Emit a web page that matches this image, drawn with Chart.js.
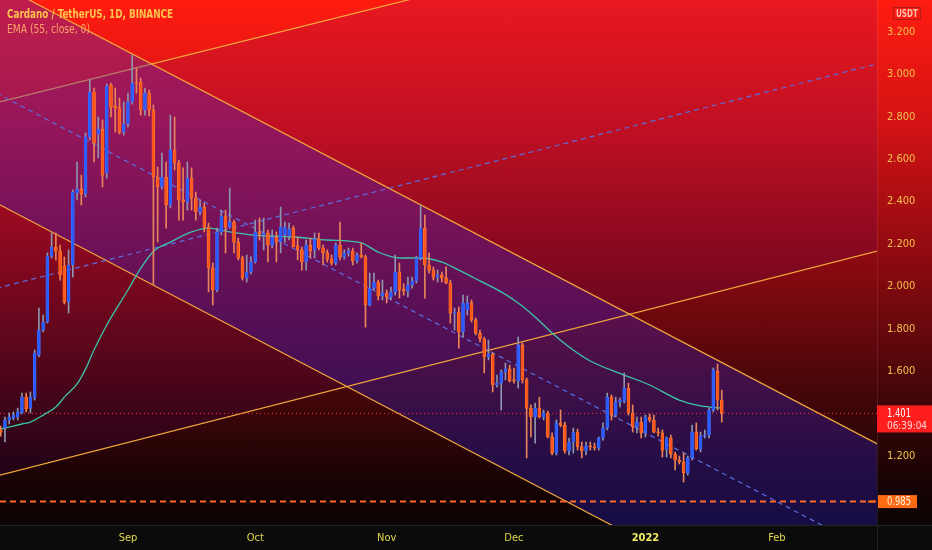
<!DOCTYPE html>
<html><head><meta charset="utf-8">
<script src="https://cdn.jsdelivr.net/npm/chart.js@4.4.1/dist/chart.umd.min.js"></script>
<style>
html,body{margin:0;padding:0;background:#0b0b0b;}
#wrap{position:relative;width:932px;height:550px;
background:linear-gradient(to bottom,#ff1c10 0px,#d01214 130px,#8c0a10 260px,#460609 390px,#190304 480px,#0c0303 524px,#0b0b0b 525px,#0b0b0b 550px);}
canvas{display:block;}
</style></head><body><div id="wrap"><canvas id="c" width="932" height="550"></canvas></div>
<script>
// day offsets are counted from 1 Sep 2021; first candle = 2 Aug 2021
const FIRST_DAY = -30;
const open = [
1.323,1.332,1.370,1.379,1.384,1.403,1.478,1.426,1.474,1.676,
1.794,1.832,2.143,2.186,2.167,2.096,1.926,2.101,2.441,2.459,
2.436,2.705,2.917,2.719,2.742,2.535,2.950,2.851,2.842,2.728,
2.766,2.870,2.959,2.964,2.832,2.912,2.832,2.516,2.469,2.516,
2.384,2.643,2.582,2.408,2.398,2.511,2.417,2.351,2.374,2.280,
2.087,1.983,2.257,2.332,2.280,2.304,2.209,2.134,2.040,2.068,
2.115,2.257,2.243,2.252,2.195,2.233,2.209,2.243,2.238,2.275,
2.191,2.172,2.115,2.195,2.172,2.224,2.181,2.158,2.129,2.110,
2.195,2.139,2.158,2.167,2.120,2.148,2.139,1.912,1.992,2.021,
1.955,1.969,1.950,1.974,2.068,1.988,1.978,2.007,2.026,2.134,
2.275,2.101,2.077,2.044,2.054,2.040,2.016,1.874,1.879,1.785,
1.889,1.922,1.842,1.780,1.752,1.667,1.681,1.535,1.544,1.597,
1.611,1.559,1.554,1.724,1.559,1.426,1.384,1.426,1.384,1.403,
1.290,1.214,1.356,1.346,1.224,1.266,1.313,1.243,1.224,1.247,
1.243,1.238,1.285,1.332,1.478,1.393,1.455,1.459,1.521,1.403,
1.337,1.360,1.309,1.384,1.370,1.313,1.309,1.233,1.285,1.209,
1.181,1.172,1.120,1.191,1.313,1.233,1.294,1.299,1.417,1.601,
1.464];
const high = [
1.341,1.384,1.403,1.408,1.426,1.497,1.497,1.502,1.700,1.898,
1.865,2.158,2.252,2.252,2.195,2.139,2.172,2.455,2.587,2.525,
2.724,2.974,2.936,2.799,2.785,2.955,2.959,2.936,2.889,2.870,
2.912,3.092,3.030,2.983,2.936,2.926,2.856,2.563,2.629,2.587,
2.808,2.799,2.596,2.559,2.587,2.559,2.445,2.408,2.393,2.299,
2.111,2.275,2.360,2.360,2.464,2.313,2.228,2.143,2.148,2.139,
2.313,2.323,2.323,2.266,2.266,2.257,2.374,2.304,2.299,2.285,
2.233,2.186,2.219,2.228,2.252,2.252,2.195,2.172,2.148,2.205,
2.304,2.172,2.181,2.181,2.158,2.205,2.148,2.063,2.063,2.030,
2.030,1.983,1.997,2.148,2.110,2.012,2.044,2.044,2.143,2.384,
2.337,2.158,2.092,2.077,2.068,2.092,2.030,1.898,1.903,1.959,
1.955,1.936,1.851,1.794,1.761,1.747,1.686,1.582,1.606,1.639,
1.629,1.615,1.761,1.733,1.568,1.441,1.450,1.478,1.417,1.412,
1.309,1.370,1.417,1.360,1.285,1.332,1.327,1.266,1.266,1.266,
1.261,1.290,1.356,1.497,1.488,1.478,1.474,1.592,1.544,1.441,
1.384,1.384,1.393,1.398,1.393,1.332,1.323,1.290,1.299,1.219,
1.200,1.214,1.200,1.346,1.356,1.313,1.323,1.426,1.615,1.634,
1.511];
const low = [
1.294,1.266,1.351,1.370,1.370,1.398,1.408,1.403,1.464,1.667,
1.785,1.827,2.134,2.125,2.030,1.917,1.874,2.044,2.408,2.384,
2.422,2.691,2.587,2.606,2.469,2.511,2.799,2.728,2.719,2.714,
2.752,2.860,2.912,2.808,2.808,2.804,2.007,2.209,2.459,2.275,
2.370,2.549,2.313,2.313,2.360,2.360,2.313,2.337,2.257,1.974,
1.912,1.974,2.243,2.158,2.275,2.158,2.125,2.030,2.021,2.059,
2.110,2.219,2.172,2.115,2.181,2.115,2.158,2.209,2.219,2.186,
2.125,2.077,2.077,2.134,2.134,2.172,2.101,2.115,2.101,2.101,
2.125,2.129,2.143,2.101,2.110,2.134,1.808,1.908,1.983,1.936,
1.936,1.922,1.936,1.959,1.945,1.959,1.950,1.992,2.016,2.125,
1.945,2.063,2.030,2.021,2.021,2.012,1.827,1.794,1.709,1.761,
1.865,1.832,1.771,1.738,1.592,1.653,1.502,1.525,1.417,1.559,
1.549,1.544,1.521,1.544,1.191,1.290,1.261,1.379,1.370,1.285,
1.205,1.205,1.337,1.214,1.205,1.214,1.228,1.191,1.205,1.228,
1.228,1.228,1.275,1.323,1.370,1.384,1.431,1.450,1.393,1.313,
1.309,1.285,1.290,1.360,1.309,1.294,1.195,1.195,1.191,1.134,
1.162,1.077,1.110,1.181,1.228,1.219,1.285,1.285,1.408,1.417,
1.360];
const close = [
1.313,1.370,1.384,1.393,1.408,1.478,1.422,1.478,1.686,1.794,
1.832,2.143,2.186,2.167,2.054,1.926,2.101,2.445,2.459,2.436,
2.705,2.917,2.676,2.742,2.525,2.945,2.846,2.842,2.728,2.766,
2.870,2.959,2.955,2.832,2.912,2.832,2.516,2.469,2.516,2.384,
2.643,2.582,2.408,2.398,2.511,2.417,2.351,2.374,2.280,2.087,
1.983,2.257,2.332,2.280,2.304,2.209,2.134,2.040,2.068,2.115,
2.257,2.247,2.252,2.195,2.233,2.209,2.280,2.280,2.271,2.186,
2.172,2.115,2.195,2.167,2.224,2.181,2.158,2.129,2.110,2.195,
2.139,2.158,2.167,2.120,2.148,2.139,1.912,1.992,2.021,1.955,
1.969,1.950,1.974,2.068,1.983,1.978,2.007,2.026,2.134,2.275,
2.101,2.077,2.044,2.054,2.040,2.016,1.874,1.879,1.785,1.922,
1.922,1.842,1.780,1.752,1.667,1.681,1.535,1.544,1.597,1.611,
1.554,1.554,1.724,1.559,1.426,1.384,1.426,1.384,1.403,1.290,
1.214,1.356,1.346,1.224,1.266,1.313,1.243,1.224,1.247,1.243,
1.238,1.285,1.332,1.478,1.393,1.455,1.464,1.521,1.403,1.337,
1.360,1.309,1.384,1.370,1.313,1.309,1.228,1.285,1.209,1.181,
1.172,1.120,1.191,1.313,1.233,1.294,1.299,1.417,1.606,1.464,
1.401];

// EMA(55)
const emaDays   = [-30,-25,-23,-20,-17,-15,-12,-10,-8,-5,-4,0,3,6,10,15,19,24,29,33,39,47,55,59,64,69,74,78,83,88,92,96,100,104,109,117,123,130,135,140];
const emaValues = [1.327,1.351,1.360,1.393,1.431,1.478,1.540,1.610,1.700,1.818,1.853,1.983,2.085,2.165,2.209,2.257,2.275,2.257,2.243,2.238,2.233,2.219,2.205,2.162,2.134,2.134,2.115,2.077,2.026,1.974,1.922,1.856,1.780,1.714,1.648,1.582,1.535,1.464,1.436,1.426];

// drawn trend lines: [day, price] endpoints
const descUpper = [[-31,3.432],[178,1.243]];
const descLower = [[-31,2.393],[178,0.204]];
const descMid   = [[-31,2.912],[178,0.723]];
const ascUpper  = [[-31,2.866],[178,3.911]];
const ascLower  = [[-31,1.106],[178,2.174]];
const ascMid    = [[-31,1.991],[178,3.057]];

const xTickDays   = [0,30,61,91,122,153];
const xTickLabels = ['Sep','Oct','Nov','Dec','2022','Feb'];
const yTicks = [1.2,1.6,1.8,2.0,2.2,2.4,2.6,2.8,3.0,3.2];
const lastPrice = 1.401;
const countdown = '06:39:04';
const supportLevel = 0.985;
const titleText = 'Cardano / TetherUS, 1D, BINANCE';
const emaText = 'EMA (55, close, 0)';

function hasFont(name) {
  const c = document.createElement('canvas').getContext('2d');
  const s = 'abcdefghijklmnopqrstuvwxyz0123456789';
  c.font = '40px monospace'; const a = c.measureText(s).width;
  c.font = "40px '" + name + "', monospace"; const b = c.measureText(s).width;
  return Math.abs(a - b) > 0.5;
}
const NARROW = hasFont('Liberation Sans Narrow');
const FONT = NARROW ? "'Liberation Sans Narrow',sans-serif" : "'DejaVu Sans Condensed','DejaVu Sans',sans-serif";
const TICK_SIZE = NARROW ? 12 : 11;

const days = open.map((_, i) => FIRST_DAY + i);
const isUp = open.map((o, i) => close[i] >= o);
const pts = arr => arr.map(p => ({x: p[0], y: p[1]}));
const XMIN = -30.17, XMAX = 176.6;

const trendLine = (pairs, color, dash, extra) => Object.assign({
  type: 'line', data: pts(pairs), borderColor: color, borderWidth: 1.2,
  borderDash: dash || [], pointRadius: 0, fill: false, tension: 0
}, extra || {});

const datasets = [
  trendLine(descUpper, '#f2a93b', null, {fill: '+1', backgroundColor: 'rgba(45,35,220,0.30)', order: 20}),
  trendLine(descLower, '#f2a93b', null, {order: 19}),
  trendLine(descMid, '#5b6de0', [5,4], {order: 18}),
  trendLine(ascUpper, '#f2a93b', null, {fill: '+1', backgroundColor: 'rgba(70,0,150,0.12)', order: 21}),
  trendLine(ascLower, '#f2a93b', null, {order: 16}),
  trendLine(ascMid, '#5b6de0', [5,4], {order: 15}),
  trendLine([[XMIN,lastPrice],[XMAX,lastPrice]], '#ff3030', [1,3], {borderWidth: 1, order: 14}),
  trendLine([[XMIN,supportLevel],[XMAX,supportLevel]], '#ff6a2a', [6,4], {borderWidth: 2, order: 13}),
  {type: 'line', data: emaDays.map((d, i) => ({x: d, y: emaValues[i]})), borderColor: '#3cc4a8',
   borderWidth: 1.3, pointRadius: 0, cubicInterpolationMode: 'monotone', fill: false, order: 3},
  {type: 'bar', data: days.map((d, i) => ({x: d, y: [low[i], high[i]]})),
   backgroundColor: isUp.map(u => u ? '#8d96ac' : '#e8845a'), barThickness: 1, grouped: false, order: 2},
  {type: 'bar', data: days.map((d, i) => ({x: d, y: [open[i], close[i]]})),
   backgroundColor: isUp.map(u => u ? '#2a5cff' : '#ff5420'),
   borderColor: isUp.map(u => u ? '#3f6cff' : '#ff8a1e'), borderWidth: 0.6, borderSkipped: false,
   barThickness: 3, minBarLength: 1, grouped: false, order: 1}
];

function fitText(ctx, text, x, y, targetW) {
  const w = ctx.measureText(text).width;
  const k = Math.min(1, targetW / w);
  ctx.save(); ctx.translate(x, y); ctx.scale(k, 1); ctx.fillText(text, 0, 0); ctx.restore();
}

const overlay = {
  id: 'overlay',
  afterDraw(chart) {
    const ctx = chart.ctx, y = chart.scales.y;
    ctx.save();
    ctx.strokeStyle = 'rgba(255,255,255,0.09)'; ctx.lineWidth = 1;
    ctx.beginPath(); ctx.moveTo(877.5, 0); ctx.lineTo(877.5, 550); ctx.stroke();
    ctx.beginPath(); ctx.moveTo(0, 525.5); ctx.lineTo(932, 525.5); ctx.stroke();
    // legend
    ctx.textBaseline = 'middle'; ctx.textAlign = 'left';
    ctx.font = 'bold 12px ' + FONT; ctx.fillStyle = '#ffc44d';
    fitText(ctx, titleText, 7, 15, 166);
    ctx.font = '12px ' + FONT; ctx.fillStyle = '#ffa36b';
    fitText(ctx, emaText, 7, 30, 83);
    // USDT badge
    ctx.strokeStyle = '#b01c1c'; ctx.lineWidth = 1;
    ctx.strokeRect(893.5, 7.5, 27, 12);
    ctx.font = 'bold 10px ' + FONT; ctx.fillStyle = '#ffc0b0';
    fitText(ctx, 'USDT', 896, 14, 22);
    // last price label
    const yp = y.getPixelForValue(lastPrice);
    ctx.fillStyle = '#ff1e1e';
    ctx.fillRect(877, yp - 8, 55, 27);
    ctx.font = '12px ' + FONT; ctx.fillStyle = '#ffffff';
    fitText(ctx, lastPrice.toFixed(3), 887, yp + 0.5, 24);
    ctx.font = '11px ' + FONT; ctx.fillStyle = '#ffd2d2';
    fitText(ctx, countdown, 887, yp + 12.5, 40);
    // support label
    const ys = y.getPixelForValue(supportLevel);
    ctx.fillStyle = '#ff6a13';
    ctx.fillRect(878, ys - 6.5, 39, 13);
    ctx.fillRect(868, ys - 1, 7, 2);
    ctx.font = '12px ' + FONT; ctx.fillStyle = '#fff1e0';
    fitText(ctx, supportLevel.toFixed(3), 887, ys + 0.5, 24);
    ctx.restore();
  }
};

new Chart(document.getElementById('c'), {
  type: 'line',
  data: {datasets},
  options: {
    responsive: false, animation: false, devicePixelRatio: 1,
    layout: {padding: 0},
    plugins: {legend: {display: false}, tooltip: {enabled: false}},
    scales: {
      x: {
        type: 'linear', min: XMIN, max: XMAX, offset: false,
        grid: {display: false, drawTicks: false, offset: false}, border: {display: false},
        afterBuildTicks: s => { s.ticks = xTickDays.map(v => ({value: v})); },
        afterFit: s => { s.height = 25; s.paddingLeft = 0; s.paddingRight = 0; },
        ticks: {
          autoSkip: false, maxRotation: 0, padding: 7,
          callback: (v, i) => xTickLabels[i],
          color: ctx => xTickLabels[ctx.index] === '2022' ? '#f4ec60' : '#e3d94a',
          font: ctx => ({family: FONT, size: TICK_SIZE, weight: xTickLabels[ctx.index] === '2022' ? 'bold' : 'normal'})
        }
      },
      y: {
        type: 'linear', position: 'right', min: 0.8746, max: 3.351, beginAtZero: false,
        grid: {display: false, drawTicks: false}, border: {display: false},
        afterBuildTicks: s => { s.ticks = yTicks.map(v => ({value: v})); },
        afterFit: s => { s.width = 55; s.paddingTop = 0; s.paddingBottom = 0; },
        ticks: {padding: 10, color: '#f2c24a', font: {family: FONT, size: TICK_SIZE},
                callback: v => Number(v).toFixed(3)}
      }
    }
  },
  plugins: [overlay]
});
</script></body></html>
